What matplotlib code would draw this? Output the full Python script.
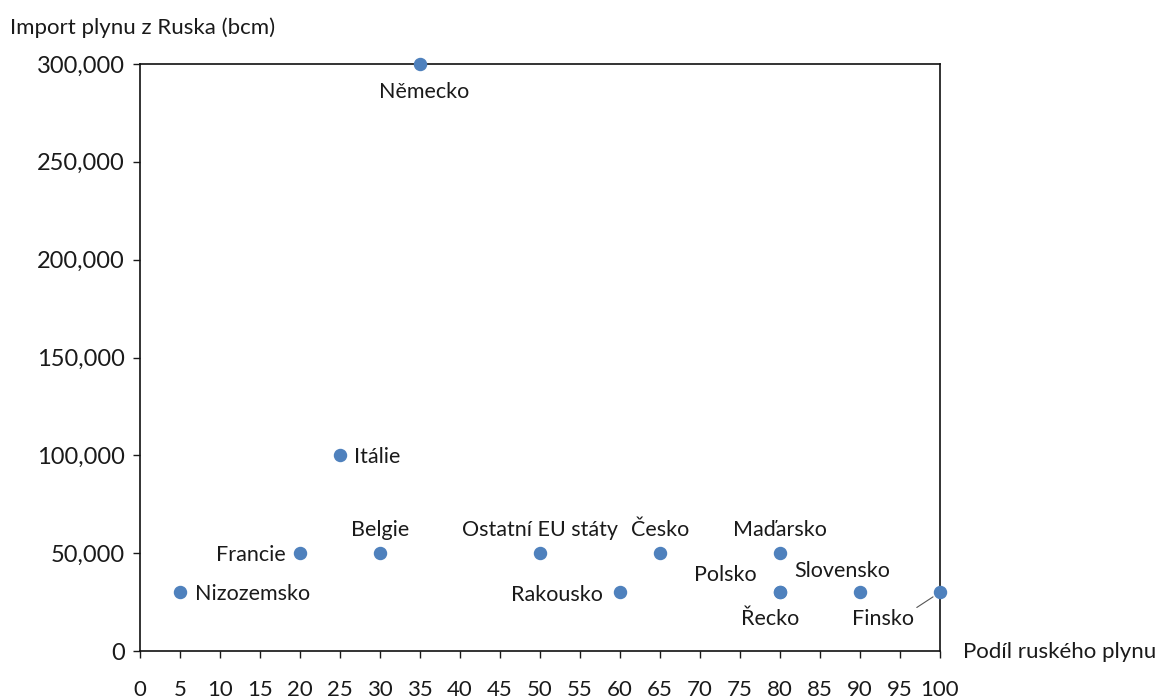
import matplotlib
matplotlib.use("Agg")
import matplotlib.pyplot as plt
from matplotlib.ticker import FuncFormatter

plt.rcParams['font.family'] = ['Lato', 'DejaVu Sans']

countries = ["Nizozemsko", "Francie", "Itálie", "Belgie", "Německo",
             "Ostatní EU státy", "Rakousko", "Česko", "Maďarsko", "Polsko",
             "Řecko", "Slovensko", "Finsko"]
share = [5, 20, 25, 30, 35, 50, 60, 65, 80, 80, 80, 90, 100]
imports = [30000, 50000, 100000, 50000, 300000, 50000, 30000, 50000,
           50000, 30000, 30000, 30000, 30000]
x_ticks = list(range(0, 101, 5))
y_ticks = list(range(0, 300001, 50000))

# label offsets in pixels (dx, dy), alignment
label_pos = {
    "Nizozemsko": (15, -2, 'left', 'center'),
    "Francie": (-14, -2, 'right', 'center'),
    "Itálie": (14, -2, 'left', 'center'),
    "Belgie": (0, 23, 'center', 'center'),
    "Německo": (4, -28, 'center', 'center'),
    "Ostatní EU státy": (0, 23, 'center', 'center'),
    "Rakousko": (-17, -3, 'right', 'center'),
    "Česko": (0, 23, 'center', 'center'),
    "Maďarsko": (0, 23, 'center', 'center'),
    "Polsko": (-23, 17, 'right', 'center'),
    "Řecko": (-10, -27, 'center', 'center'),
    "Slovensko": (-18, 21, 'center', 'center'),
    "Finsko": (-57, -27, 'center', 'center'),
}

FS = 15.5
fig = plt.figure(figsize=(11.58, 7.0), dpi=100)
ax = fig.add_axes([140/1158, 49/700, 800/1158, 587/700])
ax.scatter(share, imports, s=75, color='#4F81BD', zorder=3, clip_on=False)

for c, x, y in zip(countries, share, imports):
    dx, dy, ha, va = label_pos[c]
    if c == "Finsko":
        ax.annotate(c, (x, y), xytext=(dx, dy), textcoords='offset pixels',
                    ha=ha, va=va, fontsize=FS, color='#1a1a1a',
                    arrowprops=dict(arrowstyle='-', color='#555555', lw=0.8,
                                    shrinkA=0, shrinkB=6,
                                    relpos=(1.0, 1.0)))
    else:
        ax.annotate(c, (x, y), xytext=(dx, dy), textcoords='offset pixels',
                    ha=ha, va=va, fontsize=FS, color='#1a1a1a')

ax.set_xlim(0, 100)
ax.set_ylim(0, 300000)
ax.set_xticks(x_ticks)
ax.set_yticks(y_ticks)
ax.yaxis.set_major_formatter(FuncFormatter(lambda v, p: "0" if v == 0 else f"{int(v):,}"))
ax.tick_params(axis='x', direction='out', length=5, width=1, pad=16,
               labelsize=16, colors='#1a1a1a')
ax.tick_params(axis='y', direction='out', length=5, width=1, pad=6,
               labelsize=17, colors='#1a1a1a')
for s in ax.spines.values():
    s.set_linewidth(1.2)
    s.set_color('#111111')

fig.text(10/1158, 1 - 28/700, "Import plynu z Ruska (bcm)", fontsize=16,
         color='#1a1a1a', ha='left', va='center')
fig.text(963/1158, 1 - 652/700, "Podíl ruského plynu", fontsize=16,
         color='#1a1a1a', ha='left', va='center')

fig.savefig("out.png", dpi=100, facecolor='white')
